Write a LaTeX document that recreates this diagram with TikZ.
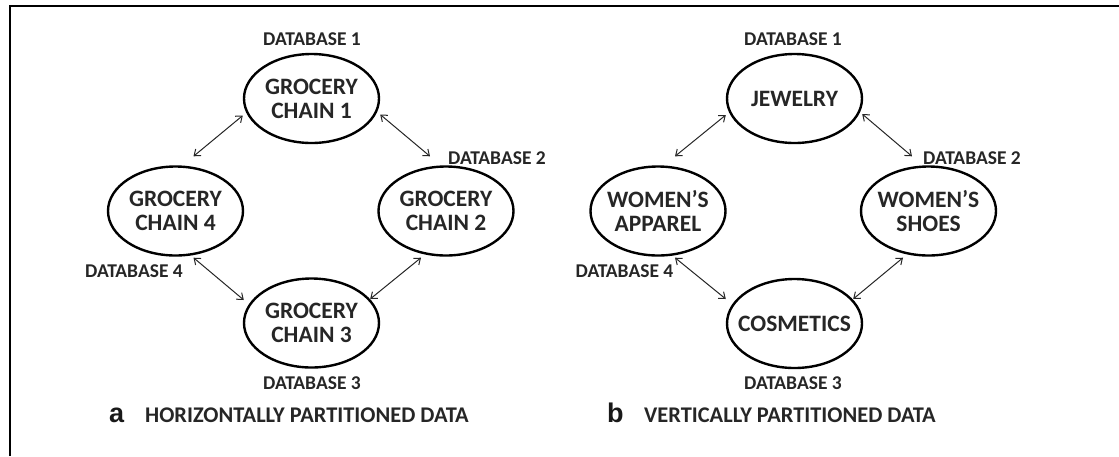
\documentclass[tikz,border=0pt]{standalone}
\usepackage{fontspec}
\setmainfont{Carlito}
\newfontfamily\letterfont{Liberation Sans}
\usetikzlibrary{arrows.meta,shapes.geometric}
\begin{document}
\begin{tikzpicture}[x=1pt,y=-1pt,
  dbox/.style={ellipse,draw=black,line width=2.4pt,minimum width=135pt,minimum height=89pt,
    inner xsep=-20pt,inner ysep=0pt,align=center,text=black!85,font=\fontsize{23.5}{24}\selectfont\bfseries},
  dblabel/.style={inner sep=0pt,text=black!85,font=\fontsize{19.5}{21}\selectfont\bfseries},
  link/.style={{Straight Barb[length=5.5pt,width=8.5pt]}-{Straight Barb[length=5.5pt,width=8.5pt]},
    line width=1pt,draw=black!85},
  captext/.style={inner sep=0pt,anchor=base west,text=black!85,font=\fontsize{22.4}{24}\selectfont\bfseries},
  capletter/.style={inner sep=0pt,anchor=base west,text=black!90,font=\fontsize{27}{28}\selectfont\letterfont\bfseries}
]
\useasboundingbox (0,0) rectangle (1119,456);
\draw[line width=1.6pt] (10,456) -- (10,6) -- (1119,6);

% ---- panel a ----
\node[dbox] (g1) at (311.5,98.5) {GROCERY\\CHAIN 1};
\node[dbox] (g2) at (446,211) {GROCERY\\CHAIN 2};
\node[dbox] (g3) at (311.5,323) {GROCERY\\CHAIN 3};
\node[dbox] (g4) at (175.5,211) {GROCERY\\CHAIN 4};

\node[dblabel] (la1) at (312,39) {DATABASE 1};
\node[dblabel] (la2) at (497,158) {DATABASE 2};
\node[dblabel] (la3) at (312,383) {DATABASE 3};
\node[dblabel] (la4) at (134,271) {DATABASE 4};

\draw[link] ([shift={(0,17)}]g1.west) -- ([shift={(18,-9)}]g4.north);
\draw[link] ([shift={(0,16)}]g1.east) -- ([shift={(-16,-9)}]g2.north);
\draw[link] ([shift={(18,1)}]g4.south) -- ([shift={(1,-23)}]g3.west);
\draw[link] ([shift={(-25,1)}]g2.south) -- ([shift={(-10,-24)}]g3.east);

\node[capletter] (ca) at (109,422) {a};
\node[captext] (ta) at (145,422) {HORIZONTALLY PARTITIONED DATA};

% ---- panel b ----
\node[dbox] (j) at (794.5,98.5) {JEWELRY};
\node[dbox] (ws) at (928.5,211) {WOMEN’S\\SHOES};
\node[dbox] (co) at (794.5,323.5) {COSMETICS};
\node[dbox] (wa) at (658,211) {WOMEN’S\\APPAREL};

\node[dblabel] (lb1) at (793,39) {DATABASE 1};
\node[dblabel] (lb2) at (972,158) {DATABASE 2};
\node[dblabel] (lb3) at (793,383) {DATABASE 3};
\node[dblabel] (lb4) at (624.5,271) {DATABASE 4};

\draw[link] ([shift={(0,16.5)}]j.west) -- ([shift={(17,-9)}]wa.north);
\draw[link] ([shift={(-1,15.5)}]j.east) -- ([shift={(-16.5,-9)}]ws.north);
\draw[link] ([shift={(17,1)}]wa.south) -- ([shift={(0,-24.5)}]co.west);
\draw[link] ([shift={(-25.5,1)}]ws.south) -- ([shift={(-10,-24.5)}]co.east);

\node[capletter] (cb) at (607,422) {b};
\node[captext] (tb) at (644,422) {VERTICALLY PARTITIONED DATA};
\end{tikzpicture}
\end{document}
